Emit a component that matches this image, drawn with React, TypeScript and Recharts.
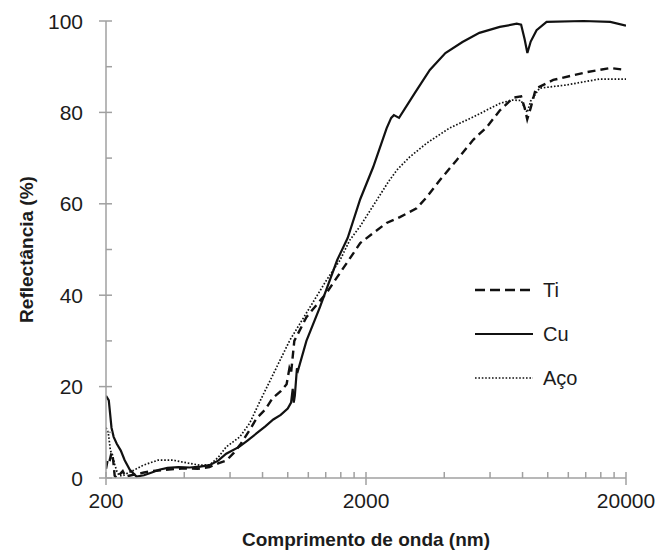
import React from 'react';
import { LineChart, Line, XAxis, YAxis } from 'recharts';

// wavelength (nm) and reflectance (%)
const TI_WAVE = [200, 203, 206, 210, 213, 216, 220, 226, 232, 238, 245, 260, 280, 300, 340, 400, 450, 500, 540, 580, 620, 660, 714, 760, 820, 875, 940, 990, 1015, 1030, 1060, 1180, 1410, 1590, 1790, 1900, 2130, 2400, 2700, 3130, 3430, 3850, 4470, 5170, 5830, 6560, 7360, 7900, 8150, 8340, 8600, 9000, 10500, 14100, 17400, 20000];
const TI_REFL = [2, 4, 3.5, 5.5, 4, 0.5, 0, 0.8, 1.5, 0.3, 0.5, 0.8, 1.2, 1.5, 1.8, 2.1, 2.0, 2.4, 3.2, 3.8, 5.5, 7.5, 10.5, 13.1, 15, 17.5, 19, 20.5, 24, 23, 30, 35.2, 40.5, 44.9, 49.2, 51.4, 53.6, 55.8, 57.1, 59, 61.5, 65.2, 69.6, 74, 76.8, 80.5, 83.2, 83.5, 81, 78.5, 81, 85.2, 87.1, 88.8, 89.7, 89.3];

const CU_WAVE = [200, 205, 210, 214, 220, 228, 236, 247, 262, 280, 300, 320, 345, 380, 420, 460, 500, 540, 580, 650, 700, 760, 820, 880, 940, 1000, 1030, 1045, 1055, 1065, 1085, 1095, 1180, 1330, 1550, 1700, 1900, 2130, 2400, 2500, 2560, 2680, 3080, 3520, 4040, 4700, 5460, 6540, 7600, 7900, 8150, 8350, 8600, 9060, 9900, 13700, 17400, 20000];
const CU_REFL = [18, 17, 11, 9, 7.5, 6, 3.9, 1.8, 0.3, 0.6, 1.2, 1.8, 2.2, 2.4, 2.3, 2.5, 2.8, 3.8, 5.3, 6.8, 8.2, 9.8, 11.3, 12.8, 13.8, 15.2, 16.5, 19.5, 16.5, 18, 24, 23.5, 30, 37.4, 47.7, 52.5, 61, 68, 76.5, 78.8, 79.4, 78.8, 84.2, 89.3, 93, 95.4, 97.4, 98.7, 99.4, 99.2, 96, 93, 95.5, 98, 99.8, 100, 99.8, 99];

const ACO_WAVE = [200, 204, 208, 212, 216, 220, 225, 232, 245, 258, 278, 317, 362, 410, 460, 502, 540, 580, 654, 714, 785, 857, 920, 1020, 1180, 1410, 1590, 1730, 1894, 2200, 2450, 2630, 2940, 3430, 4200, 5170, 6560, 7300, 7900, 8150, 8340, 8600, 9300, 11800, 15800, 20000];
const ACO_REFL = [11, 10, 6, 5, 3, 1.5, 0.5, 0.5, 1.2, 1.8, 2.8, 3.9, 3.9, 3.3, 2.8, 2.9, 4.5, 6.8, 9, 12, 17, 21.4, 25, 30.2, 36.1, 43.3, 47.7, 52, 55, 60.8, 65, 67.4, 70.2, 73.3, 76.6, 79, 82, 82.7, 82.6, 81, 80, 82.5, 85.3, 86, 87.3, 87.3];

const X_TICKS = [200, 400, 600, 800, 1000, 1200, 1400, 1600, 1800, 2000, 4000, 6000, 8000, 10000, 12000, 14000, 16000, 18000, 20000];
const X_LABELS = [200, 2000, 20000];
const Y_TICKS = [0, 10, 20, 30, 40, 50, 60, 70, 80, 90, 100];

const FONT = '"Liberation Sans", Arial, sans-serif';
const AXIS = '#a0a0a0';
const INK = '#1c1c1c';

const toPoints = (wave: number[], refl: number[]) => wave.map((x, i) => ({ x, y: refl[i] }));

const SERIES = [
  { name: 'Ti', data: toPoints(TI_WAVE, TI_REFL), dash: '8 5', legendDash: '10 5', width: 2.4 },
  { name: 'Cu', data: toPoints(CU_WAVE, CU_REFL), dash: undefined, legendDash: undefined, width: 2.2 },
  { name: 'Aço', data: toPoints(ACO_WAVE, ACO_REFL), dash: '1.6 1.8', legendDash: '1.6 1.8', width: 1.7 },
];

const XTick = (props: any) => {
  const { x, y, payload } = props;
  const major = X_LABELS.includes(payload.value);
  return (
    <g>
      <line x1={x} x2={x} y1={y - 6} y2={major ? y + 7 : y} stroke={AXIS} strokeWidth={1.5} />
      {major && (
        <text x={x} y={y + 30} textAnchor="middle" fontSize={21} fontFamily={FONT} fill={INK}>
          {payload.value}
        </text>
      )}
    </g>
  );
};

const YTick = (props: any) => {
  const { x, y, payload } = props;
  const major = payload.value % 20 === 0;
  return (
    <g>
      <line x1={major ? x - 7 : x} x2={x + 6} y1={y} y2={y} stroke={AXIS} strokeWidth={1.5} />
      {major && (
        <text x={x - 23} y={y + 7.5} textAnchor="end" fontSize={21} fontFamily={FONT} fill={INK}>
          {payload.value}
        </text>
      )}
    </g>
  );
};

const LegendBox = () => (
  <div style={{ position: 'absolute', left: 475, top: 268, fontFamily: FONT, fontSize: 20, color: INK }}>
    {SERIES.map((s) => (
      <div key={s.name} style={{ display: 'flex', alignItems: 'center', height: 44 }}>
        <svg width={68} height={10}>
          <line x1={0} x2={58} y1={5} y2={5} stroke="#111" strokeWidth={s.width}
            strokeDasharray={s.legendDash} />
        </svg>
        <span>{s.name}</span>
      </div>
    ))}
  </div>
);

export default function App() {
  return (
    <div style={{ position: 'absolute', left: 0, top: 0, width: 664, height: 558, background: '#fff' }}>
      <LineChart width={664} height={558} margin={{ top: 21, right: 38, bottom: 0, left: 0 }}>
        <XAxis dataKey="x" type="number" scale="log" domain={[200, 20000]} ticks={X_TICKS}
          allowDataOverflow height={80} tickSize={0} tickMargin={0} tick={<XTick />}
          stroke={AXIS} strokeWidth={1.5} interval={0}
          label={{ value: 'Comprimento de onda (nm)', position: 'insideBottom', offset: 12,
            style: { fontFamily: FONT, fontSize: 19, fontWeight: 700, fill: INK } }} />
        <YAxis dataKey="y" type="number" domain={[0, 100]} ticks={Y_TICKS} width={106}
          tickSize={0} tickMargin={0} tick={<YTick />} stroke={AXIS} strokeWidth={1.5} interval={0}
          label={{ value: 'Reflectância (%)', angle: -90, position: 'insideLeft', offset: 26,
            style: { fontFamily: FONT, fontSize: 19, fontWeight: 700, fill: INK, textAnchor: 'middle' } }} />
        {SERIES.map((s) => (
          <Line key={s.name} data={s.data} dataKey="y" name={s.name} type="linear"
            stroke="#111" strokeWidth={s.width} strokeDasharray={s.dash} dot={false}
            activeDot={false} isAnimationActive={false} />
        ))}
      </LineChart>
      <LegendBox />
    </div>
  );
}
